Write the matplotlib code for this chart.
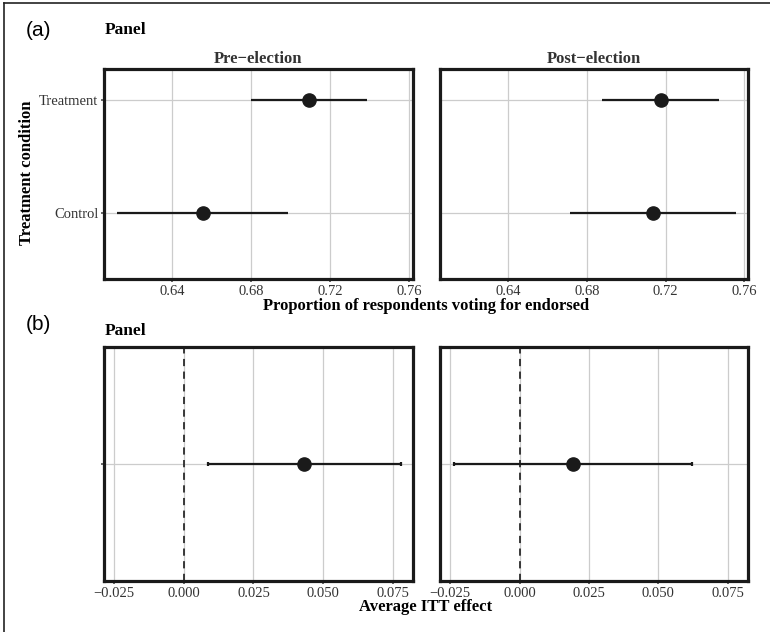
import matplotlib
matplotlib.use("Agg")
import matplotlib.pyplot as plt
from matplotlib.lines import Line2D

# ---- data ----
conditions = ["Control", "Treatment"]
periods = ["Pre\u2212election", "Post\u2212election"]
prop_est = {"Pre\u2212election": [0.6554, 0.7092], "Post\u2212election": [0.7137, 0.7176]}
prop_lo = {"Pre\u2212election": [0.6123, 0.6800], "Post\u2212election": [0.6716, 0.6877]}
prop_hi = {"Pre\u2212election": [0.6984, 0.7386], "Post\u2212election": [0.7556, 0.7473]}
prop_ticks = [0.64, 0.68, 0.72, 0.76]
prop_ticklabels = ["0.64", "0.68", "0.72", "0.76"]

itt_est = [0.0432, 0.0191]
itt_lo = [0.0085, -0.0236]
itt_hi = [0.0779, 0.0620]
itt_ticks = [-0.025, 0.0, 0.025, 0.050, 0.075]
itt_ticklabels = ["\u22120.025", "0.000", "0.025", "0.050", "0.075"]

SERIF = ["Liberation Serif", "DejaVu Serif"]
SANS = ["Liberation Sans", "DejaVu Sans"]
plt.rcParams['font.family'] = SERIF

W, H = 770, 632
fig = plt.figure(figsize=(W / 100, H / 100), dpi=100)

def rect(x0, y0, x1, y1):
    return [x0 / W, 1 - y1 / H, (x1 - x0) / W, (y1 - y0) / H]

frame_col = "#1a1a1a"
grid_col = "#cccccc"
tick_col = "#4d4d4d"

def style(ax, xticks, xlabels):
    for s in ax.spines.values():
        s.set_linewidth(2.3)
        s.set_color(frame_col)
    ax.set_xticks(xticks)
    ax.set_xticklabels(xlabels)
    ax.grid(True, color=grid_col, linewidth=0.9)
    ax.set_axisbelow(True)
    ax.tick_params(axis='both', length=2.5, width=1.2, color=tick_col,
                   labelsize=10.5, labelcolor="#333333", pad=1.5)

top_axes = [fig.add_axes(rect(104, 69, 413, 279)), fig.add_axes(rect(440, 69, 748, 279))]
bot_axes = [fig.add_axes(rect(104, 347, 413, 581)), fig.add_axes(rect(440, 347, 748, 581))]

ypos = [0, 1]
for i, (ax, p) in enumerate(zip(top_axes, periods)):
    style(ax, prop_ticks, prop_ticklabels)
    for j in range(len(conditions)):
        ax.plot([prop_lo[p][j], prop_hi[p][j]], [ypos[j], ypos[j]], color=frame_col,
                lw=1.6, solid_capstyle='butt', zorder=3)
    ax.plot(prop_est[p], ypos, 'o', color=frame_col, ms=9.5, zorder=4)
    ax.set_xlim(0.6055, 0.7618)
    ax.set_ylim(-0.584, 1.274)
    ax.set_yticks(ypos)
    if i == 0:
        ax.set_yticklabels(conditions)
    else:
        ax.set_yticklabels([])
        ax.tick_params(axis='y', length=0)
    ax.set_title(p, fontsize=12, fontweight='bold', color="#333333", pad=4)

for i, ax in enumerate(bot_axes):
    style(ax, itt_ticks, itt_ticklabels)
    ax.axvline(0, color="#2a2a2a", lw=1.3, ls=(0, (4, 3)), zorder=2)
    ax.errorbar([itt_est[i]], [0], xerr=[[itt_est[i] - itt_lo[i]], [itt_hi[i] - itt_est[i]]],
                fmt='o', color=frame_col, ms=9.5, elinewidth=1.6, capsize=1.5, capthick=1.6, zorder=4)
    ax.set_xlim(-0.0287, 0.0823)
    ax.set_ylim(-1, 1)
    ax.set_yticks([0])
    ax.set_yticklabels([])
    if i == 1:
        ax.tick_params(axis='y', length=0)

# texts
fig.text(26 / W, 1 - 31 / H, "(a)", family=SANS, fontsize=15, va='center', ha='left')
fig.text(26 / W, 1 - 325 / H, "(b)", family=SANS, fontsize=15, va='center', ha='left')
fig.text(105 / W, 1 - 30 / H, "Panel", fontsize=12.5, fontweight='bold', va='center', ha='left')
fig.text(105 / W, 1 - 331 / H, "Panel", fontsize=12.5, fontweight='bold', va='center', ha='left')
fig.text(426 / W, 1 - 306 / H, "Proportion of respondents voting for endorsed", fontsize=12,
         fontweight='bold', va='center', ha='center')
fig.text(426 / W, 1 - 607 / H, "Average ITT effect", fontsize=12,
         fontweight='bold', va='center', ha='center')
fig.text(27 / W, 1 - 173 / H, "Treatment condition", fontsize=12, fontweight='bold',
         va='center', ha='center', rotation=90)

# outer border lines (left and top)
fig.add_artist(Line2D([4 / W, 4 / W], [0, 1 - 3 / H], color="#222222", lw=1.2, transform=fig.transFigure))
fig.add_artist(Line2D([4 / W, 1], [1 - 3 / H, 1 - 3 / H], color="#222222", lw=1.2, transform=fig.transFigure))

fig.savefig("out.png", dpi=100)
